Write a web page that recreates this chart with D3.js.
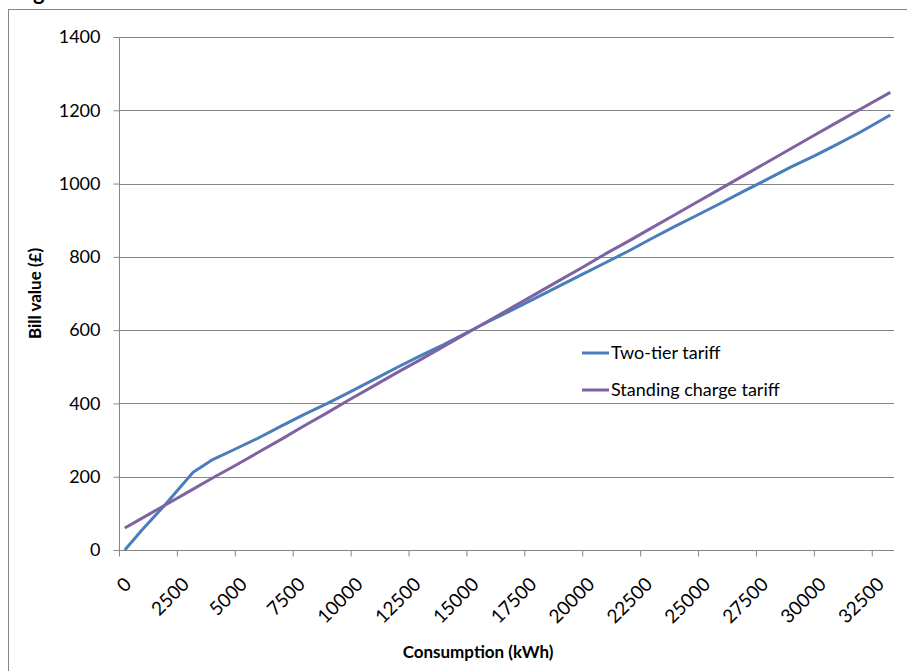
<!DOCTYPE html>
<html lang="en">
<head>
	<meta charset="UTF-8">
	<title>Bill value vs consumption</title>
	<script src="https://cdn.jsdelivr.net/npm/d3@7/dist/d3.min.js"></script>
	<style>
		body { margin: 0; background: #fff; }
		text { font-family: Lato, "Open Sans", sans-serif; fill: #000; }
		.grid line { stroke: #868686; stroke-width: 1; }
		.axis path, .axis line { stroke: #868686; stroke-width: 1; }
		.axis text { font-size: 18px; }
	</style>
</head>
<body>
	<div id="container"></div>
	<script>
		// data
		var consumption = [250, 1000, 2000, 3200, 4000, 5000, 6000, 7000, 8000, 9000, 10000,
			11000, 12000, 13000, 14000, 15000, 16000, 17000, 18000, 19000, 20000, 21000,
			22000, 23000, 24000, 25000, 26000, 27000, 28000, 29000, 30000, 31000, 32000, 33300];
		var twoTier = [0, 55, 124, 212, 245, 275, 305, 338, 370, 400, 432,
			465, 498, 530, 560, 593, 625, 656, 688, 720, 752, 784,
			816, 850, 883, 915, 947, 980, 1012, 1045, 1075, 1107, 1140, 1187];
		var standing = [60, 87, 123, 166, 195, 230, 266, 302, 339, 375, 412,
			448, 484, 519, 555, 591, 627, 663, 699, 735, 771, 808,
			843, 879, 915, 951, 987, 1023, 1059, 1095, 1131, 1167, 1203, 1249];
		var seriesNames = ["Two-tier tariff", "Standing charge tariff"];
		var seriesColors = ["#4a7ebb", "#7f62a1"];
		var xTicks = d3.range(0, 32501, 2500);
		var yTicks = d3.range(0, 1401, 200);

		var width = 907, height = 671;
		var plotLeft = 119, plotRight = 894, plotTop = 37, plotBottom = 550;

		var svg = d3.select("#container").append("svg")
				.attr("width", width)
				.attr("height", height);

		// outer chart border (runs past right/bottom edge)
		svg.append("rect")
				.attr("x", 8.5).attr("y", 9.5)
				.attr("width", 1000).attr("height", 1000)
				.attr("fill", "none")
				.attr("stroke", "#868686");

		// cut-off title glyph at top
		svg.append("text")
				.attr("x", 33).attr("y", 0)
				.style("font-size", "22px").style("font-weight", "bold")
				.text("g");

		var x = d3.scaleLinear()
				.domain([0, 33460])
				.range([plotLeft, plotRight]);
		var y = d3.scaleLinear()
				.domain([0, 1400])
				.range([plotBottom, plotTop]);

		// gridlines
		svg.append("g").attr("class", "grid")
			.selectAll("line").data(yTicks.slice(1))
			.enter().append("line")
				.attr("x1", plotLeft).attr("x2", plotRight)
				.attr("y1", d => Math.round(y(d)) + 0.5)
				.attr("y2", d => Math.round(y(d)) + 0.5);

		var yAxis = d3.axisLeft(y).tickValues(yTicks).tickSize(6).tickSizeOuter(0).tickPadding(13)
				.tickFormat(d3.format("d"));
		var yAxisG = svg.append("g").attr("class", "axis")
				.attr("transform", "translate(" + (plotLeft + 0.5) + ",0)")
				.call(yAxis);
		yAxisG.select(".domain").remove();
		yAxisG.append("line")
				.attr("x1", 0).attr("x2", 0)
				.attr("y1", plotTop).attr("y2", plotBottom);

		var xAxis = d3.axisBottom(x).tickValues(xTicks).tickSize(6).tickSizeOuter(0)
				.tickFormat(d3.format("d"));
		var xAxisG = svg.append("g").attr("class", "axis")
				.attr("transform", "translate(0," + (plotBottom + 0.5) + ")")
				.call(xAxis);
		xAxisG.select(".domain").remove();
		xAxisG.append("line")
				.attr("x1", plotLeft).attr("x2", plotRight)
				.attr("y1", 0).attr("y2", 0);
		xAxisG.selectAll(".tick text")
				.style("font-size", "19px")
				.attr("text-anchor", "end")
				.attr("dy", null)
				.attr("y", 0)
				.attr("transform", "translate(13,35) rotate(-45)");

		// lines
		var line = d3.line()
				.x((d, i) => x(consumption[i]))
				.y(d => y(d));

		[twoTier, standing].forEach(function(s, k) {
			svg.append("path")
					.datum(s)
					.attr("fill", "none")
					.attr("stroke", seriesColors[k])
					.attr("stroke-width", 3)
					.attr("stroke-linejoin", "round")
					.attr("d", line);
		});

		// legend
		var legend = svg.append("g").attr("transform", "translate(582,353)");
		seriesNames.forEach(function(n, k) {
			var g = legend.append("g").attr("transform", "translate(0," + (k * 37) + ")");
			g.append("line")
					.attr("x1", 0).attr("x2", 27)
					.attr("stroke", seriesColors[k])
					.attr("stroke-width", 3);
			g.append("text")
					.attr("x", 29).attr("dy", "0.35em")
					.style("font-size", "18px")
					.text(n);
		});

		// axis titles
		svg.append("text")
				.attr("x", 478).attr("y", 658)
				.attr("text-anchor", "middle")
				.style("font-size", "17px").style("font-weight", "bold")
				.text("Consumption  (kWh)");

		svg.append("text")
				.attr("transform", "translate(41," + ((plotTop + plotBottom) / 2) + ") rotate(-90)")
				.attr("text-anchor", "middle")
				.style("font-size", "17px").style("font-weight", "bold")
				.text("Bill value  (£)");
	</script>
</body>
</html>
